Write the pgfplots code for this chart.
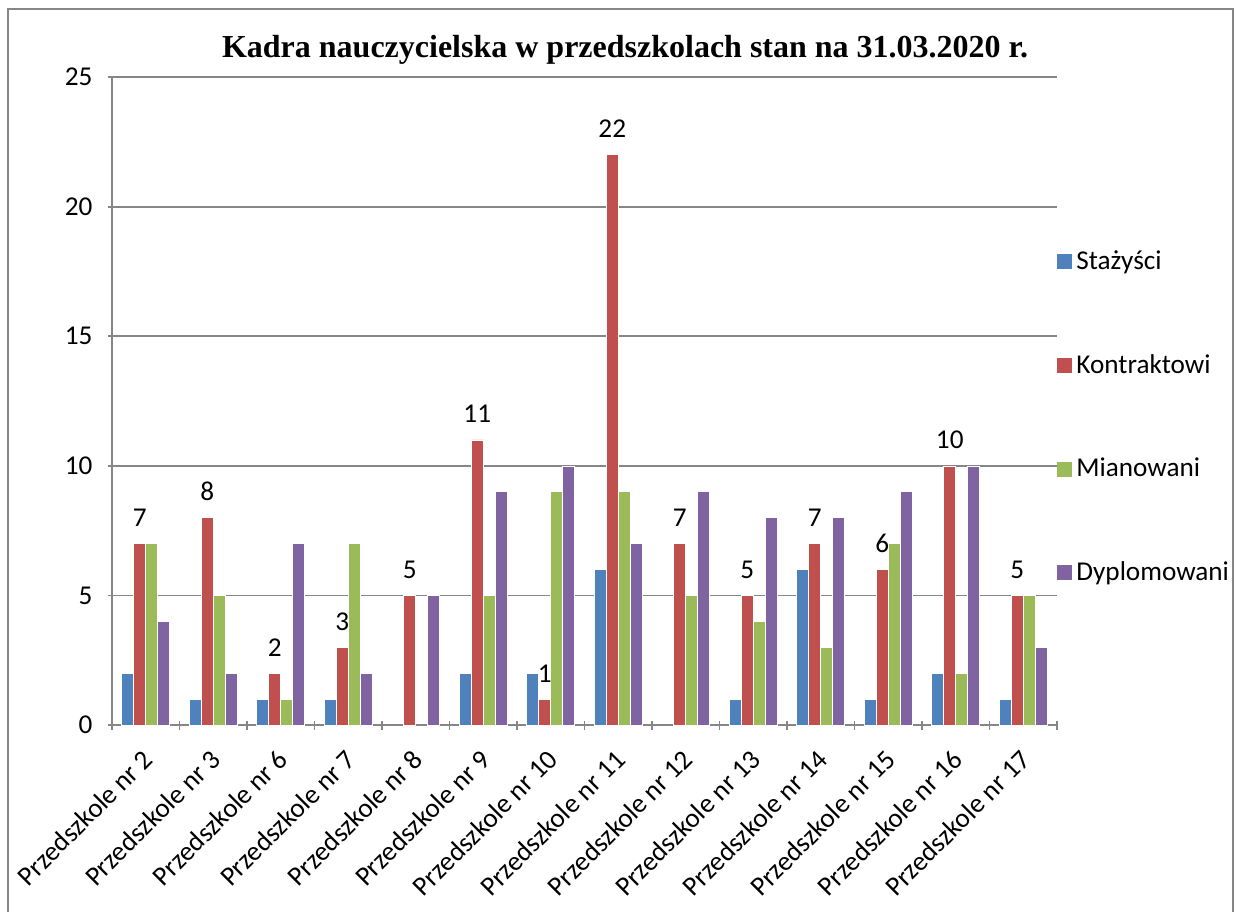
\documentclass[border=0pt]{standalone}
\usepackage{fontspec}
\setmainfont{Carlito}
\newfontfamily\titlefont{Liberation Serif}
\usepackage{pgfplots}
\pgfplotsset{compat=1.18}
\definecolor{cS}{HTML}{4F81BD}
\definecolor{cK}{HTML}{C0504D}
\definecolor{cM}{HTML}{9BBB59}
\definecolor{cD}{HTML}{8064A2}
\definecolor{gridgray}{HTML}{868686}
\begin{document}
\begin{tikzpicture}
\useasboundingbox (0,0) rectangle (617pt,455.5pt);
\draw[gridgray, line width=0.9pt] (4pt,-5pt) -- (4pt,451pt) -- (616.3pt,451pt) -- (616.3pt,-5pt);
\node[font=\titlefont\bfseries\fontsize{16}{18}\selectfont] at (312.5pt,430.5pt) {Kadra nauczycielska w przedszkolach stan na 31.03.2020 r.};
\begin{axis}[
  at={(56pt,93pt)}, anchor=south west,
  scale only axis, width=472.5pt, height=324pt,
  ybar=0pt, bar width=6pt,
  xmin=-0.5, xmax=13.5, ymin=0, ymax=25,
  xtick={0,...,13},
  xticklabels={Przedszkole nr 2,Przedszkole nr 3,Przedszkole nr 6,Przedszkole nr 7,Przedszkole nr 8,Przedszkole nr 9,Przedszkole nr 10,Przedszkole nr 11,Przedszkole nr 12,Przedszkole nr 13,Przedszkole nr 14,Przedszkole nr 15,Przedszkole nr 16,Przedszkole nr 17},
  minor xtick={-0.5,0.5,...,13.5},
  ytick={0,5,...,25},
  major x tick style={draw=none},
  tick align=outside, major tick length=4.5pt, minor tick length=4.5pt,
  tick style={gridgray, line width=0.9pt},
  axis x line=bottom, axis y line=left,
  axis line style={-, gridgray, line width=0.9pt},
  ymajorgrids, grid style={gridgray, line width=0.9pt},
  /pgf/number format/assume math mode=true,
  tick label style={font=\fontsize{13.6}{15}\selectfont, text=black},
  xticklabel style={rotate=45, anchor=north east, inner sep=0pt, xshift=-8pt, yshift=-4.7pt},
  yticklabel style={xshift=-4pt},
  legend style={at={(1,0.475)}, anchor=west, draw=none, fill=none, font=\fontsize{13.6}{15}\selectfont, row sep=37pt, inner xsep=0pt},
  legend cell align=left,
  legend image code/.code={\fill[#1,draw=none] (0pt,-3.75pt) rectangle (7.5pt,3.75pt);},
]
\addplot[fill=cS, draw=white, line width=0.3pt] coordinates {(0,2) (1,1) (2,1) (3,1) (5,2) (6,2) (7,6) (9,1) (10,6) (11,1) (12,2) (13,1)};
\addlegendentry{Stażyści}
\addplot[fill=cK, draw=white, line width=0.3pt, nodes near coords, every node near coord/.append style={font=\fontsize{13.6}{15}\selectfont, text=black, yshift=5pt}] coordinates {(0,7) (1,8) (2,2) (3,3) (4,5) (5,11) (6,1) (7,22) (8,7) (9,5) (10,7) (11,6) (12,10) (13,5)};
\addlegendentry{Kontraktowi}
\addplot[fill=cM, draw=white, line width=0.3pt] coordinates {(0,7) (1,5) (2,1) (3,7) (5,5) (6,9) (7,9) (8,5) (9,4) (10,3) (11,7) (12,2) (13,5)};
\addlegendentry{Mianowani}
\addplot[fill=cD, draw=white, line width=0.3pt] coordinates {(0,4) (1,2) (2,7) (3,2) (4,5) (5,9) (6,10) (7,7) (8,9) (9,8) (10,8) (11,9) (12,10) (13,3)};
\addlegendentry{Dyplomowani}
\end{axis}
\end{tikzpicture}
\end{document}
